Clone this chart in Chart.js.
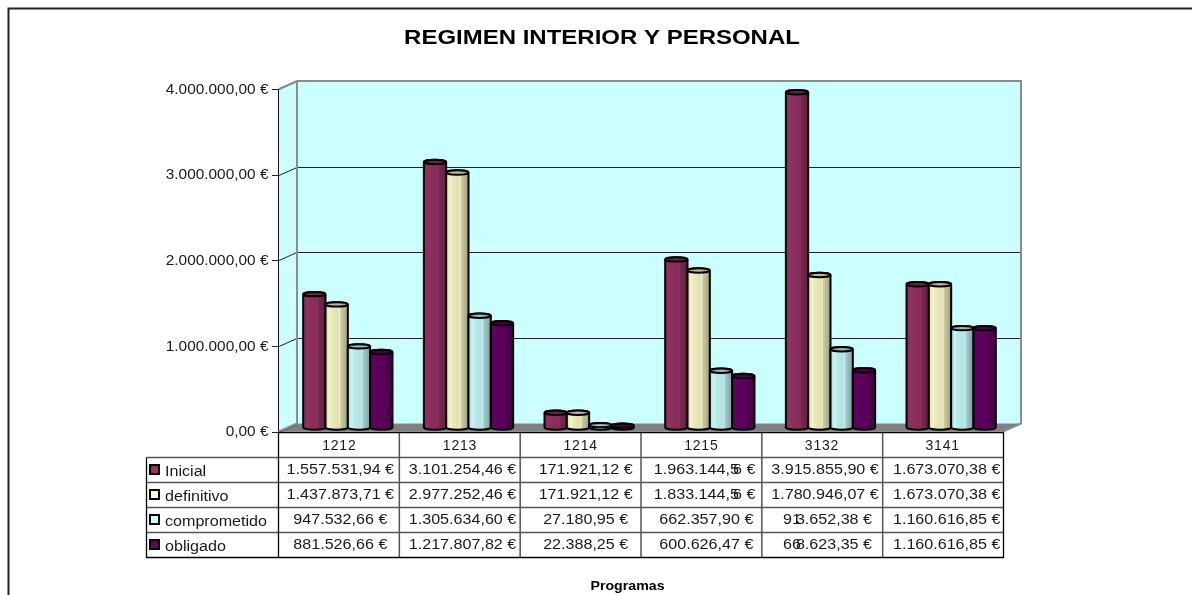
<!DOCTYPE html>
<html><head><meta charset="utf-8">
<style>html,body{margin:0;padding:0;background:#fff;overflow:hidden}canvas{display:block}</style>
<script src="https://cdn.jsdelivr.net/npm/chart.js@4"></script>
</head><body>
<div style="width:1192px;height:595px;position:relative"><canvas id="c" width="1192" height="595"></canvas></div>
<script>
const categories = ['1212','1213','1214','1215','3132','3141'];
const seriesNames = ['Inicial','definitivo','comprometido','obligado'];
const inicial = [1557531.94,3101254.46,171921.12,1963144.56,3915855.90,1673070.38];
const definitivo = [1437873.71,2977252.46,171921.12,1833144.56,1780946.07,1673070.38];
const comprometido = [947532.66,1305634.60,27180.95,662357.90,913652.38,1160616.85];
const obligado = [881526.66,1217807.82,22388.25,600626.47,668623.35,1160616.85];
const seriesColors = ['#993366','#FFFFCC','#CCFFFF','#660066'];
const chartTitle = 'REGIMEN INTERIOR Y PERSONAL';
const axisTitle = 'Programas';
const allValues = [inicial,definitivo,comprometido,obligado];

const FONT = '"Liberation Sans", Arial, sans-serif';
const TXT = '#1a1a1a';
const DX = 18, DY = -8;          // depth of the 3D box
const BX = 8.5, BY = -4;         // bars stand mid-depth
const ROW0 = 457.5, ROW_H = 25, LEG_L = 146.5;
const CELL_NUDGE = [1,2.5,5,5,3,4];
const money = v => v.toLocaleString('de-DE',{minimumFractionDigits:2,maximumFractionDigits:2}) + ' €';

function shade(hex, f){
  const n = parseInt(hex.slice(1),16);
  const c = [n>>16&255,n>>8&255,n&255].map(v=>Math.round(v*f));
  return `rgb(${c[0]},${c[1]},${c[2]})`;
}
function cylinder(ctx, el, color){
  const {x,y,base,width} = el.getProps(['x','y','base','width'],true);
  const l = x - width/2 + BX, r = x + width/2 + BX, cx = (l+r)/2;
  const top = y + BY, bot = base + BY, ry = 2.2, rx = (r-l)/2;
  const g = ctx.createLinearGradient(l,0,r,0);
  g.addColorStop(0, shade(color,0.86)); g.addColorStop(0.2, shade(color,0.97));
  g.addColorStop(0.25, shade(color,0.92)); g.addColorStop(0.58, shade(color,0.88));
  g.addColorStop(0.63, shade(color,0.95)); g.addColorStop(0.68, shade(color,0.8));
  g.addColorStop(1, shade(color,0.62));
  ctx.save();
  ctx.beginPath();
  ctx.moveTo(l,top);
  ctx.lineTo(l,bot);
  ctx.ellipse(cx,bot,rx,ry,0,Math.PI,0,true);
  ctx.lineTo(r,top);
  ctx.ellipse(cx,top,rx,ry,0,0,Math.PI,true);
  ctx.closePath();
  ctx.fillStyle = g; ctx.fill();
  ctx.lineWidth = 2; ctx.strokeStyle = '#000'; ctx.stroke();
  ctx.beginPath(); ctx.ellipse(cx,top,rx,ry,0,0,Math.PI*2);
  ctx.fillStyle = shade(color,0.72); ctx.fill();
  ctx.lineWidth = 2; ctx.stroke();
  ctx.restore();
}
const SX = 1.15;  // reference text is stretched horizontally
function sText(ctx,text,x,y,align,sx){
  ctx.save(); ctx.translate(x,y); ctx.scale(sx||SX,1); ctx.textAlign=align; ctx.fillText(text,0,0); ctx.restore();
}
function drawCellText(ctx, text, cx, y){
  // the source picture collapses one digit pair in a few cells: [split, start, end]
  const overlaps = {'1.963.144,56 €':[11,-52.5,49],'1.833.144,56 €':[11,-52.5,49],'913.652,38 €':[2,-42,47],'668.623,35 €':[2,-42,47]};
  const o = overlaps[text];
  if(!o){ sText(ctx,text,cx,y,'center'); return; }
  sText(ctx,text.slice(0,o[0]),cx+o[1],y,'left');
  sText(ctx,text.slice(o[0]),cx+o[2],y,'right');
}
function wrapStretched(chart, item, method, anchorX, sx, dy){
  if(item['_w'+method]) return;
  item['_w'+method] = true;
  const orig = item[method].bind(item);
  item[method] = function(...args){
    const ctx = chart.ctx;
    ctx.save(); ctx.letterSpacing='0px';
    ctx.translate(anchorX,dy); ctx.scale(sx,1); ctx.translate(-anchorX,0);
    orig(...args);
    ctx.restore();
  };
}

const box3d = {
  id:'box3d',
  afterLayout(chart){
    if(chart.titleBlock){
      chart.titleBlock.left = 12; chart.titleBlock.right = 1192;
      wrapStretched(chart, chart.titleBlock, 'draw', 602, 1.17, 0);
    }
    wrapStretched(chart, chart.scales.y, 'drawLabels', chart.chartArea.left-10.5, 1.1, 1);
  },
  beforeDraw(chart){
    const {ctx,chartArea:a,scales:{y}} = chart;
    const {left:L,right:R,top:T,bottom:B} = a;
    ctx.letterSpacing = '0.8px';
    ctx.save();
    ctx.strokeStyle='#222'; ctx.lineWidth=2;
    ctx.beginPath(); ctx.moveTo(8.5,596); ctx.lineTo(8.5,8.5); ctx.lineTo(1192,8.5); ctx.stroke();
    ctx.fillStyle='#CCFFFF';
    ctx.fillRect(L+DX,T+DY,R-L,B-T);
    ctx.beginPath(); ctx.moveTo(L,T); ctx.lineTo(L+DX,T+DY); ctx.lineTo(L+DX,B+DY); ctx.lineTo(L,B); ctx.closePath(); ctx.fill();
    ctx.fillStyle='#808080';
    ctx.beginPath(); ctx.moveTo(L,B); ctx.lineTo(L+DX,B+DY); ctx.lineTo(R+DX,B+DY); ctx.lineTo(R,B); ctx.closePath(); ctx.fill();
    ctx.lineWidth=1;
    y.ticks.forEach((t,i)=>{
      const p = Math.round(y.getPixelForTick(i))+0.5;
      ctx.beginPath(); ctx.moveTo(L-7,p); ctx.lineTo(L,p); ctx.lineTo(L+DX,p+DY);
      if(i>0 && i<y.ticks.length-1) ctx.lineTo(R+DX,p+DY);
      ctx.strokeStyle = '#222'; ctx.stroke();
    });
    ctx.strokeStyle='#8c8c8c'; ctx.lineWidth=2;
    ctx.beginPath();
    ctx.moveTo(L,T); ctx.lineTo(L+DX,T+DY); ctx.lineTo(R+DX,T+DY); ctx.lineTo(R+DX,B+DY); ctx.lineTo(R,B);
    ctx.moveTo(L+DX,T+DY); ctx.lineTo(L+DX,B+DY); ctx.lineTo(L,B);
    ctx.stroke();
    ctx.strokeStyle='#111'; ctx.lineWidth=1;
    ctx.beginPath(); ctx.moveTo(L-0.5,T); ctx.lineTo(L-0.5,B); ctx.stroke();
    ctx.restore();
  },
  beforeDatasetsDraw(chart){
    const {ctx} = chart;
    chart.data.datasets.forEach((ds,di)=>{
      chart.getDatasetMeta(di).data.forEach(el=>cylinder(ctx,el,seriesColors[di]));
    });
    const {chartArea:a,scales:{x}} = chart;
    const L=a.left-0.5, R=a.right+0.5, B=Math.round(a.bottom)+0.5;
    const cw=(R-L)/categories.length, bottom=ROW0+ROW_H*4;
    ctx.save();
    ctx.letterSpacing='0px';
    ctx.strokeStyle='#555'; ctx.lineWidth=1.5;
    ctx.beginPath();
    for(let r=1;r<=3;r++){ ctx.moveTo(LEG_L,ROW0+r*ROW_H); ctx.lineTo(R,ROW0+r*ROW_H); }
    ctx.moveTo(LEG_L,ROW0); ctx.lineTo(R,ROW0);
    for(let c=1;c<categories.length;c++){ const p=L+c*cw; ctx.moveTo(p,B); ctx.lineTo(p,bottom); }
    ctx.stroke();
    ctx.strokeStyle='#000'; ctx.lineWidth=1.3;
    ctx.beginPath();
    ctx.moveTo(L,B); ctx.lineTo(R,B); ctx.lineTo(R,bottom); ctx.lineTo(LEG_L,bottom); ctx.lineTo(LEG_L,ROW0);
    ctx.moveTo(L,B); ctx.lineTo(L,bottom);
    ctx.stroke();
    ctx.font='14px '+FONT; ctx.textBaseline='middle';
    seriesNames.forEach((n,r)=>{
      const cy=ROW0+r*ROW_H+ROW_H/2;
      ctx.fillStyle=seriesColors[r]; ctx.strokeStyle='#000'; ctx.lineWidth=2;
      ctx.fillRect(150,cy-5,9,9); ctx.strokeRect(150,cy-5,9,9);
      ctx.fillStyle=TXT;
      sText(ctx,n,165,cy+2,'left');
      allValues[r].forEach((v,c)=>drawCellText(ctx,money(v),x.getPixelForValue(c)+CELL_NUDGE[c],cy));
    });
    ctx.font='bold 13.5px '+FONT; ctx.fillStyle='#000';
    sText(ctx,axisTitle,627.5,586,'center',1.05);
    ctx.restore();
  },
  beforeDatasetDraw(){ return false; }
};

new Chart(document.getElementById('c'),{
  type:'bar',
  data:{labels:categories,datasets:seriesNames.map((n,i)=>({label:n,data:allValues[i],backgroundColor:seriesColors[i],categoryPercentage:0.74,barPercentage:1}))},
  plugins:[box3d],
  options:{
    responsive:false,animation:false,
    layout:{padding:{left:0,right:189,top:0,bottom:0}},
    plugins:{
      legend:{display:false},tooltip:{enabled:false},
      title:{display:true,text:chartTitle,color:'#000',font:{family:FONT,size:20.5,weight:'bold',lineHeight:1.2},padding:{top:26,bottom:38.4}}
    },
    scales:{
      x:{grid:{display:false,drawTicks:false},border:{display:false},
        ticks:{color:TXT,font:{family:FONT,size:14},padding:6,maxRotation:0},
        afterFit(s){s.height=163.5;}},
      y:{min:0,max:4000000,grid:{display:false,drawTicks:false},border:{display:false},
        ticks:{stepSize:1000000,color:TXT,font:{family:FONT,size:14},padding:10.5,callback:v=>money(v)},
        afterFit(s){s.width=279;}}
    }
  }
});
</script>
</body></html>
